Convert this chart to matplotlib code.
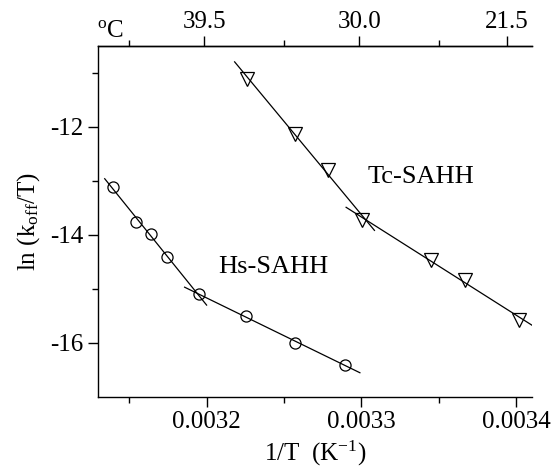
import numpy as np
import matplotlib
matplotlib.use("Agg")
import matplotlib.pyplot as plt
from matplotlib.ticker import MultipleLocator, FixedLocator

plt.rcParams['font.family'] = ['Liberation Serif', 'DejaVu Serif']
plt.rcParams['mathtext.fontset'] = 'custom'
plt.rcParams['mathtext.rm'] = 'Liberation Serif'
plt.rcParams['mathtext.it'] = 'Liberation Serif:italic'
plt.rcParams['font.size'] = 18

# Hs-SAHH
hs_x = [0.0031394, 0.0031546, 0.0031643, 0.0031744, 0.0031948, 0.0032256, 0.0032574, 0.0032895]
hs_y = [-13.11, -13.76, -13.99, -14.42, -15.10, -15.51, -16.00, -16.41]
# Tc-SAHH
tc_x = [0.0032260, 0.0032574, 0.0032787, 0.0033005, 0.0033450, 0.0033671, 0.0034019]
tc_y = [-11.11, -12.14, -12.80, -13.72, -14.46, -14.83, -15.58]

# top axis temperatures (deg C)
temps_c = [39.5, 30.0, 21.5]
temp_labels = ['39.5', '30.0', '21.5']

fig = plt.figure(figsize=(5.58, 4.69), dpi=100)
ax = fig.add_axes([0.176, 0.154, 0.777, 0.7486])

def fit_line(xs, ys, x0, x1):
    k, b = np.polyfit(xs, ys, 1)
    xx = np.array([x0, x1])
    return xx, k * xx + b

# two linear regimes per enzyme
lw = 0.9
for xs, ys, x0, x1 in [
    (hs_x[:5], hs_y[:5], 0.0031342, 0.0032000),
    (hs_x[4:], hs_y[4:], 0.0031858, 0.0032990),
    (tc_x[:4], tc_y[:4], 0.0032181, 0.0033084),
    (tc_x[3:], tc_y[3:], 0.0032901, 0.0034105),
]:
    xx, yy = fit_line(xs, ys, x0, x1)
    ax.plot(xx, yy, color='black', lw=lw)

ax.plot(hs_x, hs_y, 'o', ms=8, mfc='none', mec='black', mew=0.9)
ax.plot(tc_x, tc_y, 'v', ms=9.5, mfc='none', mec='black', mew=0.9)

ax.text(0.0032432, -14.59, 'Hs-SAHH', ha='center', va='center', fontsize=19)
ax.text(0.0033387, -12.94, 'Tc-SAHH', ha='center', va='center', fontsize=19)

ax.set_xlim(0.003130, 0.003410)
ax.set_ylim(-17, -10.5)
ax.xaxis.set_major_locator(FixedLocator([0.0032, 0.0033, 0.0034]))
ax.xaxis.set_minor_locator(FixedLocator([0.00315, 0.00325, 0.00335]))
ax.set_xticklabels(['0.0032', '0.0033', '0.0034'])
ax.yaxis.set_major_locator(FixedLocator([-16, -14, -12]))
ax.yaxis.set_minor_locator(FixedLocator([-15, -13, -11]))
ax.set_yticklabels(['-16', '-14', '-12'])
ax.tick_params(which='major', direction='out', length=7, width=1)
ax.tick_params(which='minor', direction='out', length=4, width=1)
ax.spines['right'].set_visible(False)
for s in ['left', 'bottom', 'top']:
    ax.spines[s].set_linewidth(1)

ax.set_xlabel('1/T  (K$^{-1}$)', labelpad=4)
ax.set_ylabel('ln (k$_{\\rm off}$/T)', labelpad=6)

# temperature scale on top
top = ax.twiny()
top.set_xlim(ax.get_xlim())
top.xaxis.set_major_locator(FixedLocator([1.0 / (c + 273.15) for c in temps_c]))
top.xaxis.set_minor_locator(FixedLocator([0.00315, 0.00325, 0.00335]))
top.set_xticklabels(temp_labels)
top.tick_params(which='major', direction='out', length=7, width=1, pad=2)
top.tick_params(which='minor', direction='out', length=4, width=1)
for s in ['left', 'right', 'bottom']:
    top.spines[s].set_visible(False)
top.spines['top'].set_linewidth(1)
fig.text(110 / 558, 1 - 31 / 469, '$^{\\rm o}$C', ha='center', va='center', fontsize=18)

fig.savefig('out.png', dpi=100)
